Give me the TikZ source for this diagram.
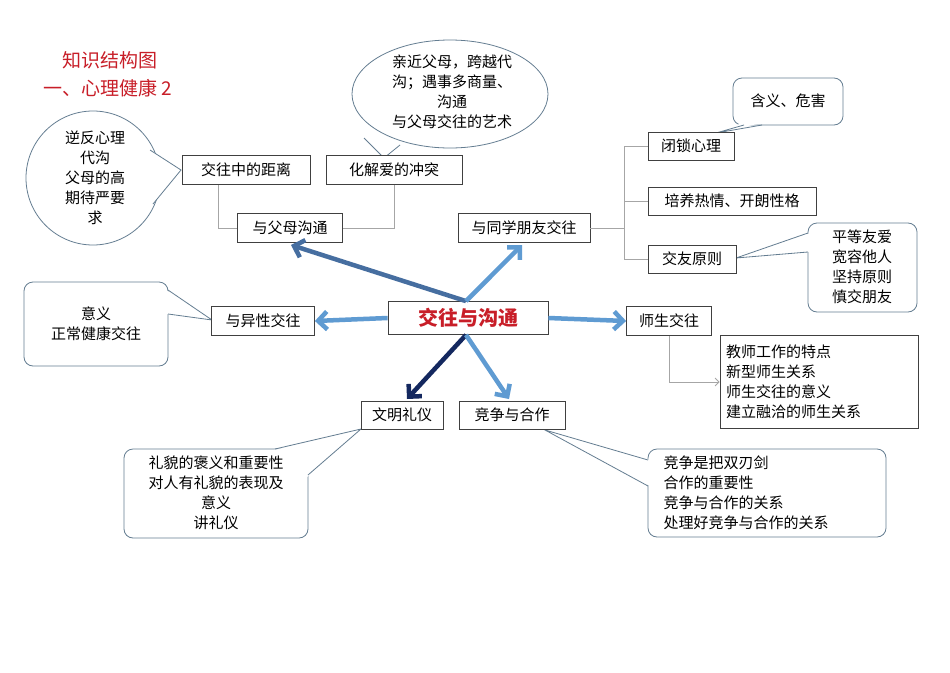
\documentclass[tikz,border=0pt]{standalone}
\usepackage{fontspec}
\setmainfont{Noto Sans CJK SC}
\usetikzlibrary{arrows.meta}
\definecolor{cborder}{RGB}{100,125,145}
\definecolor{adark}{RGB}{70,110,160}
\definecolor{alight}{RGB}{95,155,210}
\definecolor{anavy}{RGB}{20,40,95}
\definecolor{tred}{RGB}{200,30,40}
\tikzset{
 bx/.style={draw=black!75, fill=white, font=\fontsize{15}{19}\selectfont, inner sep=0pt, line width=0.8pt},
 call/.style={draw=cborder, fill=white, line width=0.8pt},
 tail/.style={draw=cborder, line width=0.8pt},
 glink/.style={draw=black!35, line width=0.8pt},
 big/.style={line width=4.5pt, -{Straight Barb[length=9pt,width=18pt,line width=4.5pt]}},
 ctext/.style={font=\fontsize{15}{20}\selectfont, align=center}
}
\begin{document}
\begin{tikzpicture}[x=1pt,y=-1pt]
\useasboundingbox (0,0) rectangle (950,672);
\fill[white] (0,0) rectangle (950,672);
% title
\node[text=tred, font=\fontsize{19}{22}\selectfont] (t1) at (110,60) {知识结构图};
\node[text=tred, font=\fontsize{19}{22}\selectfont] (t2) at (108,88) {一、心理健康 2};
% callouts
\draw[call] (450,94) ellipse [x radius=98, y radius=54];
\fill[white] (364,138) -- (400,145) -- (384,158) -- cycle;
\draw[tail] (364,138) -- (384,158) -- (400,145);
\node[ctext] (cA) at (452,92) {亲近父母，跨越代\\沟；遇事多商量、\\沟通\\与父母交往的艺术};
\draw[call] (93,178) circle [radius=67];
\fill[white] (150,150) -- (181,170) -- (153,204) -- cycle;
\draw[tail] (150,150) -- (181,170) -- (153,204);
\node[ctext] (cB) at (95,178) {逆反心理\\代沟\\父母的高\\期待严要\\求};
\draw[call, rounded corners=9pt] (24,282) rectangle (168,366);
\fill[white] (166,290) -- (212,320) -- (166,314) -- cycle;
\draw[tail] (168,290) -- (212,320) -- (168,314);
\node[ctext] (cC) at (96,324) {意义\\正常健康交往};
\draw[call, rounded corners=9pt] (733,78) rectangle (843,125);
\fill[white] (742,123) -- (716,133) -- (762,123) -- cycle;
\draw[tail] (744,125) -- (716,133) -- (762,125);
\node[ctext] (cD) at (788,101) {含义、危害};
\draw[call, rounded corners=9pt] (808,223) rectangle (917,312);
\fill[white] (810,233) -- (736,258) -- (810,252) -- cycle;
\draw[tail] (808,233) -- (736,258) -- (808,252);
\node[ctext] (cE) at (862,267) {平等友爱\\宽容他人\\坚持原则\\慎交朋友};
\draw[call, rounded corners=9pt] (124,449) rectangle (308,538);
\fill[white] (270,451) -- (361,429) -- (306,478) -- cycle;
\draw[tail] (275,449) -- (361,429) -- (308,475);
\node[ctext] (cF) at (216,493) {礼貌的褒义和重要性\\对人有礼貌的表现及\\意义\\讲礼仪};
\draw[call, rounded corners=9pt] (648,449) rectangle (886,537);
\fill[white] (650,460) -- (545,430) -- (650,486) -- cycle;
\draw[tail] (648,460) -- (545,430) -- (648,486);
\node[ctext, align=left, anchor=west] (cG) at (660,493) {竞争是把双刃剑\\合作的重要性\\竞争与合作的关系\\处理好竞争与合作的关系};
% boxes
\node[bx, minimum width=160, minimum height=33, text=tred, font=\fontsize{20}{24}\selectfont\bfseries] (c) at (468,318) {交往与沟通};
\node[bx, minimum width=128, minimum height=29] (dist) at (246,170) {交往中的距离};
\node[bx, minimum width=136, minimum height=29] (conf) at (394,170) {化解爱的冲突};
\node[bx, minimum width=105, minimum height=29] (par) at (290,228) {与父母沟通};
\node[bx, minimum width=132, minimum height=29] (fr) at (524,228) {与同学朋友交往};
\node[bx, minimum width=86, minimum height=28] (bs) at (691,146) {闭锁心理};
\node[bx, minimum width=168, minimum height=28] (py) at (732,201) {培养热情、开朗性格};
\node[bx, minimum width=88, minimum height=28] (jy) at (692,259) {交友原则};
\node[bx, minimum width=103, minimum height=29] (yx) at (263,321) {与异性交往};
\node[bx, minimum width=85, minimum height=29] (ss) at (669,321) {师生交往};
\node[bx, minimum width=198, minimum height=93, align=left, text width=186, font=\fontsize{15}{20}\selectfont, inner sep=0pt] (tc) at (819,382) {教师工作的特点\\新型师生关系\\师生交往的意义\\建立融洽的师生关系};
\node[bx, minimum width=82, minimum height=28] (wm) at (402,415) {文明礼仪};
\node[bx, minimum width=106, minimum height=28] (jz) at (512,415) {竞争与合作};
% gray links
\draw[glink] ([xshift=-28]dist.south) |- (par.west);
\draw[glink] (conf.south) |- (par.east);
\draw[glink] (fr.east) -- (624,228);
\draw[glink] (bs.west) -| (624,259) -- (jy.west);
\draw[glink] (624,201) -- (py.west);
\draw[glink, -{Straight Barb[length=4pt,width=8pt]}] (ss.south) |- (tc.west);
% big arrows
\draw[big, adark] ([xshift=-2]c.north) -- (291,245);
\draw[big, alight] ([xshift=-2]c.north) -- (522,245);
\draw[big, alight] (c.west) -- (yx.east);
\draw[big, alight] (c.east) -- (ss.west);
\draw[big, anavy] ([xshift=-2]c.south) -- (407,399);
\draw[big, alight] ([xshift=-2]c.south) -- (509,399);
\end{tikzpicture}
\end{document}
